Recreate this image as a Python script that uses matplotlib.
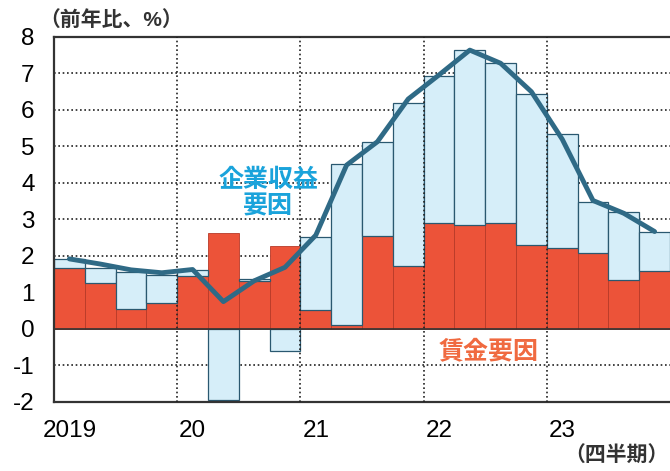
import matplotlib
matplotlib.use("Agg")
import matplotlib.pyplot as plt
import numpy as np

plt.rcParams["font.family"] = ["Liberation Sans", "Noto Sans CJK JP", "DejaVu Sans"]

# quarterly data, 2019Q1 - 2023Q4 (y/y %)
quarters = [f"{y}Q{q}" for y in range(2019, 2024) for q in range(1, 5)]
wage = [1.66, 1.26, 0.55, 0.72, 1.44, 2.64, 1.31, 2.28, 0.52, 0.10,
        2.55, 1.72, 2.90, 2.85, 2.91, 2.30, 2.23, 2.09, 1.34, 1.60]
profit = [0.26, 0.41, 1.02, 0.76, 0.18, -1.95, 0.05, -0.60, 1.99, 4.41,
          2.56, 4.46, 4.04, 4.79, 4.37, 4.13, 3.11, 1.38, 1.87, 1.05]
total = [1.92, 1.78, 1.62, 1.54, 1.63, 0.75, 1.32, 1.69, 2.57, 4.49,
         5.13, 6.30, 6.96, 7.64, 7.28, 6.50, 5.20, 3.52, 3.17, 2.67]
year_labels = ["2019", "20", "21", "22", "23"]

RED = "#ec5339"
BLUE = "#d6eef9"
LINE = "#2f6a86"

fig = plt.figure(figsize=(6.7, 4.71), dpi=100)
ax = fig.add_axes([0.0806, 0.1465, 0.9194, 0.775])

x = np.arange(len(quarters))
wage = np.array(wage)
profit = np.array(profit)
bottoms = np.where(profit >= 0, wage, 0)

ax.bar(x, wage, width=1.0, color=RED, edgecolor="#b83a28", linewidth=0.6, zorder=2)
ax.bar(x, profit, width=1.0, bottom=bottoms, color=BLUE,
       edgecolor="#2a5870", linewidth=0.9, zorder=2)
ax.plot(x, total, color=LINE, linewidth=3.5, zorder=4, solid_capstyle="round")

ax.set_xlim(-0.5, len(quarters) - 0.5)
ax.set_ylim(-2, 8)
ax.set_yticks(range(-2, 9))
ax.set_yticklabels([str(v) for v in range(-2, 9)], fontsize=17.5)
ax.set_xticks([0, 4, 8, 12, 16])
ax.set_xticklabels(year_labels, fontsize=17.5)
ax.tick_params(axis="y", length=0, pad=14)
ax.tick_params(axis="x", length=0, pad=13)

for v in range(-1, 8):
    if v != 0:
        ax.axhline(v, color="#222222", linestyle=(0, (1, 1.6)), linewidth=1.2, zorder=1)
for b in [3.5, 7.5, 11.5, 15.5]:
    ax.axvline(b, color="#222222", linestyle=(0, (1, 1.6)), linewidth=1.2, zorder=3)
ax.axhline(0, color="#333333", linewidth=1.2, zorder=3)

for s in ["left", "top", "bottom"]:
    ax.spines[s].set_color("#333333")
    ax.spines[s].set_linewidth(1.6)
ax.spines["right"].set_visible(False)

ax.text(6.45, 3.72, "企業収益\n要因", ha="center", va="center", fontsize=18,
        fontweight="bold", color="#1aa3db", linespacing=1.15, zorder=5)
ax.text(13.62, -0.62, "賃金要因", ha="center", va="center", fontsize=18,
        fontweight="bold", color="#f06a40", zorder=5)

fig.text(0.058, 0.957, "（前年比、%）", ha="left", va="center", fontsize=15,
         fontweight="bold", color="#333333")
fig.text(0.998, 0.033, "（四半期）", ha="right", va="center", fontsize=15,
         fontweight="bold", color="#333333")

fig.savefig("out.png", dpi=100)
